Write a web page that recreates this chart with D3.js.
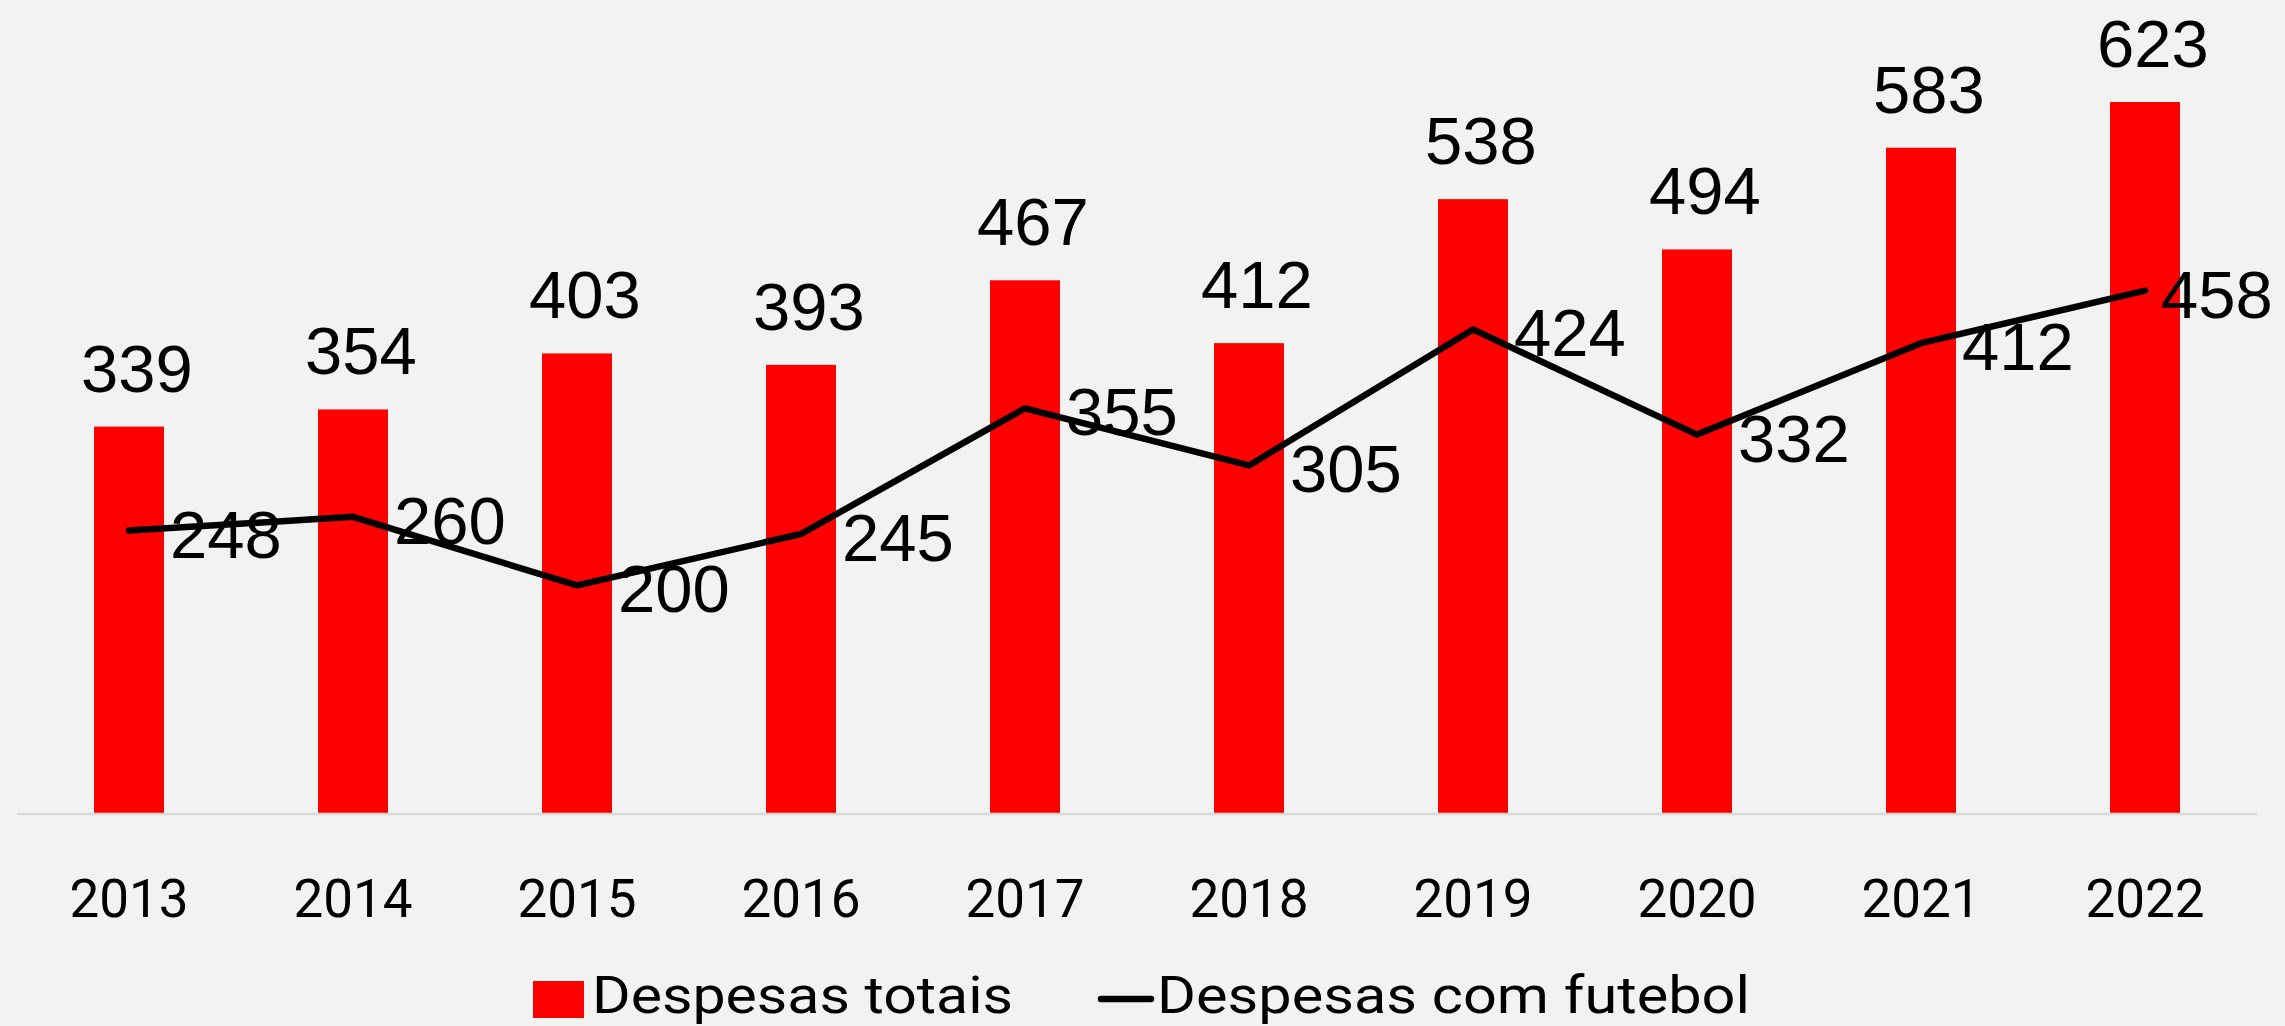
<!DOCTYPE html>
<html>
<head>
<meta charset="utf-8">
<script src="https://cdn.jsdelivr.net/npm/d3@7"></script>
<style>
  body { margin: 0; background: #f2f2f2; }
  svg { display: block; }
</style>
</head>
<body>
<div id="chart"></div>
<script>
var years = ["2013", "2014", "2015", "2016", "2017", "2018", "2019", "2020", "2021", "2022"];
var totais = [339, 354, 403, 393, 467, 412, 538, 494, 583, 623];
var futebol = [248, 260, 200, 245, 355, 305, 424, 332, 412, 458];
var legendLabels = ["Despesas totais", "Despesas com futebol"];

var width = 2285,
    height = 1026;

var svg = d3.select("#chart").append("svg")
    .attr("width", width)
    .attr("height", height)

svg.append("rect")
    .attr("width", width)
    .attr("height", height)
    .attr("fill", "#f2f2f2")

var x = d3.scaleBand()
    .domain(years)
    .range([17, 2257])
    .paddingInner(0.6875)
    .paddingOuter(0.34375);

var y = d3.scaleLinear()
    .domain([0, 700])
    .range([814, 14]);

var cx = function (d, i) { return x(years[i]) + x.bandwidth() / 2; };

// bars
svg.selectAll(".bar")
    .data(totais)
    .enter().append("rect")
    .attr("class", "bar")
    .attr("x", function (d, i) { return x(years[i]); })
    .attr("y", function (d) { return y(d); })
    .attr("width", x.bandwidth())
    .attr("height", function (d) { return y(0) - y(d); })
    .attr("fill", "#ff0000")

// baseline
svg.append("line")
    .attr("x1", x.range()[0])
    .attr("x2", x.range()[1])
    .attr("y1", y(0))
    .attr("y2", y(0))
    .attr("stroke", "#d9d9d9")
    .attr("stroke-width", 2.5)

// bar value labels
svg.selectAll(".barlabel")
    .data(totais)
    .enter().append("text")
    .attr("class", "barlabel")
    .attr("x", function (d, i) { return cx(d, i) + 8; })
    .attr("y", function (d) { return y(d) - 35; })
    .attr("text-anchor", "middle")
    .attr("font-family", "'Liberation Sans', Arial, sans-serif")
    .attr("font-size", 67)
    .attr("fill", "#000")
    .text(function (d) { return d; })

// line
var line = d3.line()
    .x(function (d, i) { return cx(d, i); })
    .y(function (d) { return y(d); });

svg.append("path")
    .datum(futebol)
    .attr("d", line)
    .attr("fill", "none")
    .attr("stroke", "#000")
    .attr("stroke-width", 6.5)
    .attr("stroke-linecap", "round")
    .attr("stroke-linejoin", "round")

// line value labels (to the right of each point, kept inside the chart)
svg.selectAll(".linelabel")
    .data(futebol)
    .enter().append("text")
    .attr("class", "linelabel")
    .attr("x", function (d, i) { return Math.min(cx(d, i) + 41, width - 10 - 114); })
    .attr("y", function (d) { return y(d) + 27; })
    .attr("font-family", "'Liberation Sans', Arial, sans-serif")
    .attr("font-size", 67)
    .attr("fill", "#000")
    .text(function (d) { return d; })

// x axis labels
var xAxis = d3.axisBottom(x).tickSize(0).tickPadding(0);
var gx = svg.append("g")
    .attr("transform", "translate(0," + 917 + ")")
    .call(xAxis)
gx.select(".domain").remove()
gx.selectAll("text")
    .attr("dy", 0)
    .attr("font-family", "Roboto, sans-serif")
    .attr("font-size", 53)
    .attr("fill", "#000")

// legend
var legend = svg.append("g").attr("class", "legend")

legend.append("rect")
    .attr("x", 533)
    .attr("y", 981)
    .attr("width", 51)
    .attr("height", 37)
    .attr("fill", "#ff0000")

legend.append("text")
    .attr("x", 592)
    .attr("y", 1013)
    .attr("font-family", "Roboto, sans-serif")
    .attr("font-size", 52)
    .attr("textLength", 421)
    .attr("lengthAdjust", "spacingAndGlyphs")
    .attr("fill", "#000")
    .text(legendLabels[0])

legend.append("line")
    .attr("x1", 1101)
    .attr("x2", 1151)
    .attr("y1", 999)
    .attr("y2", 999)
    .attr("stroke", "#000")
    .attr("stroke-width", 6.5)
    .attr("stroke-linecap", "round")

legend.append("text")
    .attr("x", 1157)
    .attr("y", 1013)
    .attr("font-family", "Roboto, sans-serif")
    .attr("font-size", 52)
    .attr("textLength", 593)
    .attr("lengthAdjust", "spacingAndGlyphs")
    .attr("fill", "#000")
    .text(legendLabels[1])
</script>
</body>
</html>
